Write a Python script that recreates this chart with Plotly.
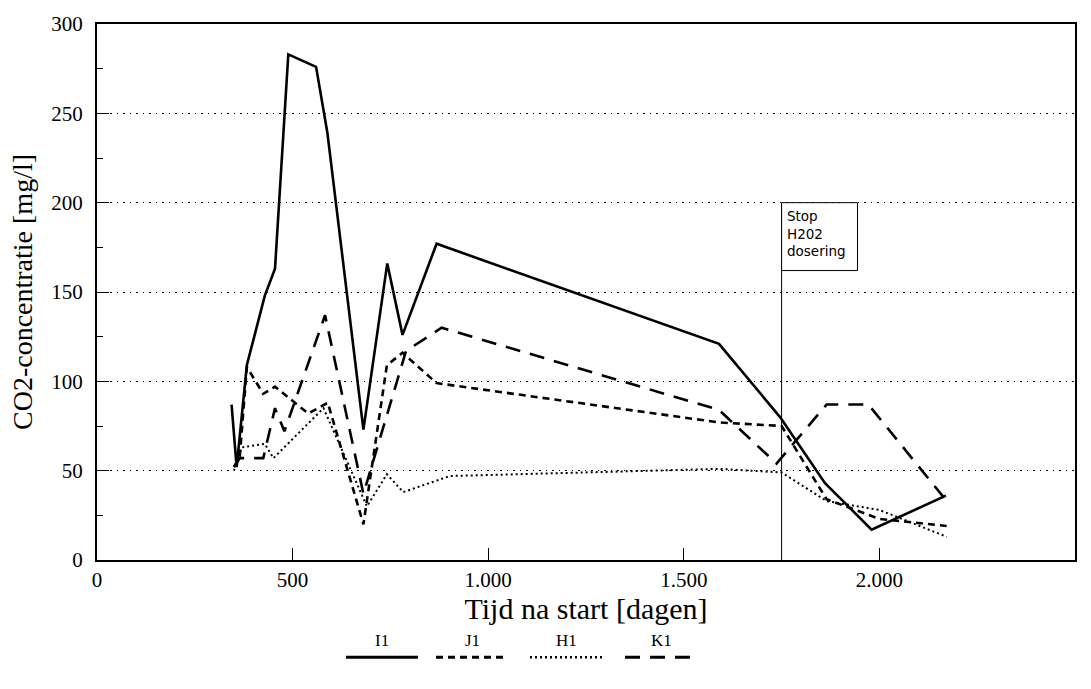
import plotly.graph_objects as go

# ---- data ----
I1_x = [344, 357, 383, 429, 455, 489, 560, 589, 681, 742, 781, 868, 1590, 1746, 1861, 1980, 2170]
I1_y = [87, 52, 109, 148, 163, 283, 276, 239, 73, 166, 126, 177, 121, 80, 43, 17, 36]

J1_x = [350, 365, 383, 425, 455, 540, 590, 681, 741, 781, 868, 1590, 1750, 1865, 2000, 2172]
J1_y = [52, 58, 108, 93, 97, 82, 88, 20, 109, 116, 99, 77, 75, 34, 23, 19]

H1_x = [350, 370, 429, 451, 579, 690, 741, 783, 902, 1590, 1750, 1865, 2000, 2172]
H1_y = [50, 63, 65, 57, 85, 30, 48, 38, 47, 51, 49, 33, 28, 13]

K1_x = [350, 365, 425, 455, 479, 583, 681, 790, 881, 1590, 1737, 1865, 1972, 2172]
K1_y = [52, 57, 57, 85, 72, 137, 37, 117, 130, 84, 54, 87, 87, 33]

series_names = ["I1", "J1", "H1", "K1"]
x_tickvals = [0, 500, 1000, 1500, 2000, 2500]
x_ticktext = ["0", "500", "1.000", "1.500", "2.000", "2.500"]
y_tickvals = [0, 50, 100, 150, 200, 250, 300]
STOP_DAY = 1750
stop_label = "Stop<br>H202<br>dosering"

# ---- styles ----
styles = {
    "I1": dict(width=2.6, dash="solid"),
    "J1": dict(width=2.6, dash="7px,5px"),
    "H1": dict(width=2.0, dash="2px,3px"),
    "K1": dict(width=2.6, dash="15px,10px"),
}
data = {"I1": (I1_x, I1_y), "J1": (J1_x, J1_y), "H1": (H1_x, H1_y), "K1": (K1_x, K1_y)}

fig = go.Figure()
for name in series_names:
    xs, ys = data[name]
    fig.add_trace(go.Scatter(x=xs, y=ys, mode="lines", name=name,
                             line=dict(color="black", **styles[name]),
                             showlegend=False))

serif = "Liberation Serif"
fig.update_layout(
    width=1091, height=689,
    margin=dict(l=97, r=16, t=20, b=129),
    paper_bgcolor="white", plot_bgcolor="white",
    font=dict(family=serif, color="black"),
    xaxis=dict(range=[0, 2500], tickvals=x_tickvals, ticktext=x_ticktext,
               ticks="inside", ticklen=12, tickwidth=1, tickcolor="black",
               showline=True, linecolor="black", linewidth=2, mirror=True,
               showgrid=False, zeroline=False,
               tickfont=dict(family=serif, size=21),
               title=dict(text="Tijd na start [dagen]", font=dict(family=serif, size=30), standoff=6)),
    yaxis=dict(range=[0, 300], tickvals=y_tickvals,
               ticks="inside", ticklen=12, tickwidth=1, tickcolor="black",
               minor=dict(dtick=25, tick0=0, ticks="inside", ticklen=6, tickcolor="black", showgrid=False),
               showline=True, linecolor="black", linewidth=2, mirror=True,
               showgrid=True, gridcolor="black", gridwidth=1.3, griddash="1.5px,5px",
               zeroline=False, ticklabelstandoff=8,
               tickfont=dict(family=serif, size=21),
               title=dict(text="CO2-concentratie [mg/l]", font=dict(family=serif, size=28), standoff=10)),
)

# Stop H2O2 marker
fig.add_shape(type="line", x0=STOP_DAY, x1=STOP_DAY, y0=0, y1=200, xref="x", yref="y",
              line=dict(color="black", width=1))
fig.add_shape(type="rect", x0=STOP_DAY, x1=STOP_DAY + 194, y0=162, y1=200, xref="x", yref="y",
              line=dict(color="black", width=1), fillcolor="white")
fig.add_annotation(x=STOP_DAY, y=200, xref="x", yref="y", text=stop_label, showarrow=False,
                   xanchor="left", yanchor="top", align="left", xshift=3, yshift=-3,
                   font=dict(family="DejaVu Sans", size=13.5, color="black"))

# Custom legend: label above a line sample
leg_centers_px = [382, 472, 566, 661]
leg_half = 36
for name, cx in zip(series_names, leg_centers_px):
    x0 = (cx - leg_half - 97) / 978
    x1 = (cx + leg_half - 97) / 978
    yl = (560 - 658) / 540
    st = dict(styles[name])
    st["width"] = st["width"] + 0.6
    fig.add_shape(type="line", x0=x0, x1=x1, y0=yl, y1=yl, xref="paper", yref="paper",
                  line=dict(color="black", **st))
    fig.add_annotation(x=(cx - 97) / 978, y=(560 - 641) / 540, xref="paper", yref="paper",
                       text=name, showarrow=False, xanchor="center", yanchor="middle",
                       font=dict(family=serif, size=17, color="black"))

fig.write_html("out.html")
